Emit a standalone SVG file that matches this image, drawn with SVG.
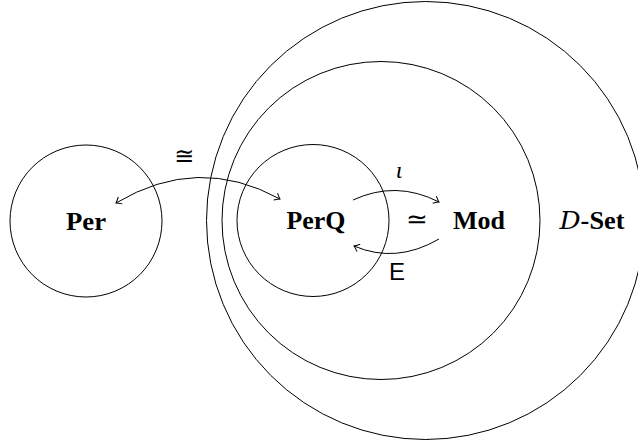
<svg xmlns="http://www.w3.org/2000/svg" width="638" height="443" viewBox="0 0 638 443">
<style>
.c{fill:none;stroke:#000;stroke-width:1}
.a{fill:none;stroke:#000;stroke-width:1}
.t{font-family:"Liberation Serif",serif;font-weight:bold;font-size:25px;text-anchor:middle;fill:#000}
.m{font-family:"DejaVu Sans",sans-serif;text-anchor:middle;fill:#000}
</style>
<defs>
<marker id="h" markerWidth="10" markerHeight="10" viewBox="-6 -5 8 10" refX="0" refY="0" orient="auto-start-reverse" markerUnits="userSpaceOnUse">
<path d="M-5,-4 Q-1.5,-0.8 0,0 Q-1.5,0.8 -5,4" fill="none" stroke="#000" stroke-width="1"/>
</marker>
</defs>
<rect width="638" height="443" fill="#fff"/>
<g id="dset"><circle class="c" cx="425.5" cy="220.5" r="219"/><text class="t" x="592" y="229" textLength="65" lengthAdjust="spacingAndGlyphs"><tspan font-family="DejaVu Serif,serif" font-style="italic" font-weight="normal">D</tspan>-Set</text></g>
<g id="mod"><circle class="c" cx="381" cy="220.5" r="159"/><text class="t" x="479" y="229" textLength="52" lengthAdjust="spacingAndGlyphs">Mod</text></g>
<g id="perq"><circle class="c" cx="313" cy="220.5" r="76"/><text class="t" x="316" y="229" textLength="59" lengthAdjust="spacingAndGlyphs">PerQ</text></g>
<g id="per"><circle class="c" cx="86" cy="221" r="76"/><text class="t" x="86" y="230" textLength="40" lengthAdjust="spacingAndGlyphs">Per</text></g>
<g id="connectors">
<path class="a" d="M116,203 Q198,154 280,199" marker-start="url(#h)" marker-end="url(#h)"/>
<path class="a" d="M353,200 Q396,180 439,202" marker-end="url(#h)"/>
<path class="a" d="M439,239 Q396,264 354,246" marker-end="url(#h)"/>
<text class="m" x="184" y="164" font-size="24">≅</text>
<text x="399" y="178" font-family="Liberation Serif,serif" font-style="italic" font-size="24" text-anchor="middle">ι</text>
<text class="m" x="417" y="228" font-size="26">≃</text>
<text x="397" y="280" font-family="Liberation Sans,sans-serif" font-size="24" text-anchor="middle">E</text>
</g>
</svg>
